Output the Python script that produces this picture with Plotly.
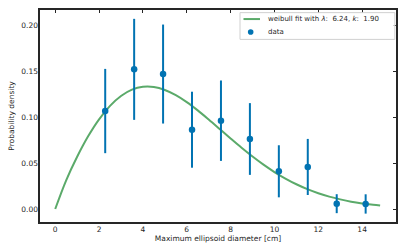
import plotly.graph_objects as go

# data points (bin centers, density, error)
bin_centers = [2.28, 3.60, 4.92, 6.24, 7.56, 8.88, 10.20, 11.52, 12.84, 14.16]
density = [0.1065, 0.1518, 0.1467, 0.0862, 0.0960, 0.0761, 0.0410, 0.0457, 0.0058, 0.0055]
density_err = [0.0458, 0.0549, 0.0538, 0.0413, 0.0437, 0.0390, 0.0283, 0.0305, 0.0103, 0.0105]

# weibull fit curve values
fit_x = [0, 0.5, 1, 1.5, 2, 2.5, 3, 3.5, 4, 4.5, 5, 5.5, 6, 6.5, 7, 7.5, 8, 8.5, 9, 9.5,
         10, 10.5, 11, 11.5, 12, 12.5, 13, 13.5, 14, 14.5, 14.82]
fit_y = [0.0, 0.0312, 0.0568, 0.0790, 0.0975, 0.1121, 0.1228, 0.1297, 0.1328, 0.1326,
         0.1294, 0.1238, 0.1162, 0.1072, 0.0973, 0.0870, 0.0766, 0.0665, 0.0570, 0.0482,
         0.0402, 0.0331, 0.0269, 0.0216, 0.0172, 0.0135, 0.0105, 0.0080, 0.0061, 0.0046, 0.0038]

x_ticks = [0, 2, 4, 6, 8, 10, 12, 14]
y_ticks = [0.00, 0.05, 0.10, 0.15, 0.20]

fit_label = "weibull fit with <i>λ</i>:  6.24, <i>k</i>:  1.90"
data_label = "data"

BLUE = "#0173B2"
GREEN = "#5BAA6A"
FONT = "DejaVu Sans"
DARK = "#262626"

fig = go.Figure()
fig.add_trace(go.Scatter(
    x=fit_x, y=fit_y, mode="lines", line=dict(color=GREEN, width=2, shape="spline"),
    name=fit_label, showlegend=False))
fig.add_trace(go.Scatter(
    x=bin_centers, y=density, mode="markers",
    marker=dict(color=BLUE, size=6.5),
    error_y=dict(type="data", array=density_err, color=BLUE, thickness=2, width=0),
    name=data_label, showlegend=False))
# invisible trace to carry top/right ticks
fig.add_trace(go.Scatter(x=[None], y=[None], xaxis="x2", yaxis="y2", showlegend=False))

xr = [-0.74, 15.59]
yr = [-0.0152, 0.2174]

# compact legend drawn in paper coordinates
leg_shapes = [
    dict(type="rect", xref="paper", yref="paper", x0=0.5615, x1=0.994, y0=0.858, y1=0.983,
         line=dict(color="#d0d0d0", width=1), fillcolor="rgba(255,255,255,0.8)", layer="above"),
    dict(type="line", xref="paper", yref="paper", x0=0.5712, x1=0.6173, y0=0.953, y1=0.953,
         line=dict(color=GREEN, width=2), layer="above"),
    dict(type="circle", xref="paper", yref="paper", x0=0.5913 - 0.0078, x1=0.5913 + 0.0078,
         y0=0.8925 - 0.0131, y1=0.8925 + 0.0131, line=dict(color=BLUE, width=0),
         fillcolor=BLUE, layer="above"),
]
leg_ann = [
    dict(xref="paper", yref="paper", x=0.634, y=0.953, xanchor="left", yanchor="middle",
         text=fit_label, showarrow=False, font=dict(size=7, family=FONT, color=DARK)),
    dict(xref="paper", yref="paper", x=0.634, y=0.8925, xanchor="left", yanchor="middle",
         text=data_label, showarrow=False, font=dict(size=7, family=FONT, color=DARK)),
]

fig.update_layout(
    width=407, height=252,
    margin=dict(l=39, r=10, t=9, b=29),
    paper_bgcolor="white", plot_bgcolor="white",
    font=dict(family=FONT, size=8, color=DARK),
    showlegend=False,
    xaxis=dict(range=xr, tickvals=x_ticks, ticks="", showgrid=False, zeroline=False,
               showline=False, automargin=False,
               tickfont=dict(size=7.5),
               title=dict(text="Maximum ellipsoid diameter [cm]", font=dict(size=7.5), standoff=3)),
    yaxis=dict(range=yr, tickvals=y_ticks, tickformat=".2f", ticks="", showgrid=False,
               zeroline=False, showline=False, automargin=False,
               tickfont=dict(size=7.5),
               title=dict(text="Probability density", font=dict(size=7.5), standoff=5)),
    xaxis2=dict(range=xr, tickvals=x_ticks, overlaying="x", side="top", ticks="inside",
                ticklen=4, tickwidth=1.2, tickcolor=DARK, showticklabels=False,
                showgrid=False, zeroline=False, anchor="y", automargin=False),
    yaxis2=dict(range=yr, tickvals=y_ticks, overlaying="y", side="right", ticks="inside",
                ticklen=4, tickwidth=1.2, tickcolor=DARK, showticklabels=False,
                showgrid=False, zeroline=False, anchor="x", automargin=False),
    shapes=leg_shapes + [dict(type="rect", xref="paper", yref="paper", x0=0, x1=1, y0=0, y1=1,
                              line=dict(color=DARK, width=2), layer="above")],
    annotations=leg_ann,
)
fig.write_html("out.html", config={"displayModeBar": False},
               post_script="document.body.style.margin='0';document.body.style.overflow='hidden';")
